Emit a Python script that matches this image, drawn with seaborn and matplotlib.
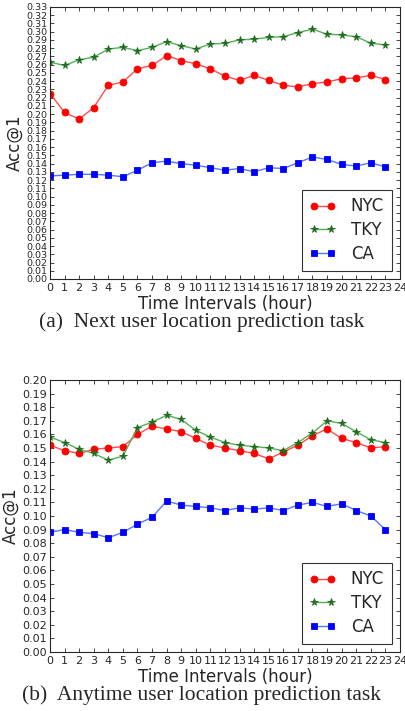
import numpy as np
import pandas as pd
import seaborn as sns
import matplotlib
matplotlib.use("Agg")
import matplotlib.pyplot as plt

# data
hours = list(range(24))

nyc_next = [0.225, 0.202, 0.194, 0.208, 0.235, 0.239, 0.255, 0.259, 0.271, 0.265, 0.261, 0.255,
            0.246, 0.241, 0.247, 0.241, 0.235, 0.233, 0.237, 0.239, 0.243, 0.244, 0.247, 0.242]
tky_next = [0.263, 0.259, 0.266, 0.269, 0.279, 0.281, 0.277, 0.281, 0.288, 0.283, 0.279, 0.285,
            0.286, 0.290, 0.291, 0.293, 0.294, 0.299, 0.303, 0.297, 0.296, 0.294, 0.286, 0.284]
ca_next = [0.125, 0.126, 0.127, 0.127, 0.126, 0.124, 0.132, 0.141, 0.143, 0.140, 0.138, 0.135,
           0.132, 0.134, 0.130, 0.135, 0.134, 0.141, 0.148, 0.145, 0.139, 0.137, 0.141, 0.136]

nyc_any = [0.152, 0.148, 0.146, 0.149, 0.150, 0.151, 0.160, 0.166, 0.164, 0.162, 0.157, 0.152,
           0.150, 0.148, 0.146, 0.142, 0.147, 0.152, 0.159, 0.164, 0.157, 0.154, 0.150, 0.151]
tky_any = [0.158, 0.154, 0.149, 0.146, 0.141, 0.144, 0.165, 0.169, 0.174, 0.171, 0.163, 0.158,
           0.154, 0.152, 0.151, 0.150, 0.148, 0.154, 0.161, 0.170, 0.168, 0.162, 0.156, 0.154]
ca_any = [0.088, 0.090, 0.088, 0.087, 0.084, 0.088, 0.094, 0.099, 0.111, 0.108, 0.107, 0.106,
          0.104, 0.106, 0.105, 0.106, 0.104, 0.108, 0.110, 0.107, 0.109, 0.104, 0.100, 0.090]

cities = ['NYC', 'TKY', 'CA']
line_colors = ['#ff4d4d', '#55b055', '#5577ff']
face_colors = ['#ff0000', '#1f6b1f', '#0000ff']
markers = ['o', '*', 's']

sns.set_style("ticks")
plt.rcParams['font.family'] = ['DejaVu Sans']
plt.rcParams['xtick.direction'] = 'in'
plt.rcParams['ytick.direction'] = 'in'
plt.rcParams['xtick.top'] = True
plt.rcParams['ytick.right'] = True

fig = plt.figure(figsize=(4.05, 7.11), dpi=100)
ax1 = fig.add_axes([0.1235, 0.6076, 0.864, 0.3826])
ax2 = fig.add_axes([0.1235, 0.083, 0.864, 0.3826])

panels = [
    (ax1, [nyc_next, tky_next, ca_next], 0.33, 6.8, '(a)  Next user location prediction task'),
    (ax2, [nyc_any, tky_any, ca_any], 0.20, 8, '(b)  Anytime user location prediction task'),
]

for ax, series, ymax, ysize, caption in panels:
    for name, vals, lc, fc, mk in zip(cities, series, line_colors, face_colors, markers):
        sns.lineplot(x=hours, y=vals, ax=ax, color=lc, marker=mk, markersize=5.5 if mk == '*' else 5,
                     markerfacecolor=fc, markeredgecolor=fc, markeredgewidth=0.6,
                     linewidth=1.0, label=name)
    ax.set_xlim(0, 24)
    ax.set_ylim(0, ymax)
    ax.set_xticks(range(25))
    ax.set_yticks(np.round(np.arange(0, ymax + 0.0001, 0.01), 2))
    ax.yaxis.set_major_formatter(matplotlib.ticker.FormatStrFormatter('%.2f'))
    ax.tick_params(axis='y', labelsize=ysize, length=3, width=0.6, pad=2)
    ax.tick_params(axis='x', labelsize=8, length=3, width=0.6, pad=3)
    for sp in ax.spines.values():
        sp.set_linewidth(0.8)
    ax.set_xlabel('Time Intervals (hour)', fontsize=12, labelpad=1)
    ax.set_ylabel('Acc@1', fontsize=12, labelpad=2)
    leg = ax.legend(loc='lower right', fontsize=12, frameon=True, fancybox=False,
                    edgecolor='black', handlelength=1.6, borderpad=0.45, labelspacing=0.35,
                    numpoints=2, handletextpad=0.9, borderaxespad=0.5)
    leg.get_frame().set_linewidth(0.8)
    ax.text(0.434, -0.16, caption, transform=ax.transAxes, ha='center', va='center',
            fontsize=15.5, family='Liberation Serif')

fig.savefig('out.png', dpi=100)
